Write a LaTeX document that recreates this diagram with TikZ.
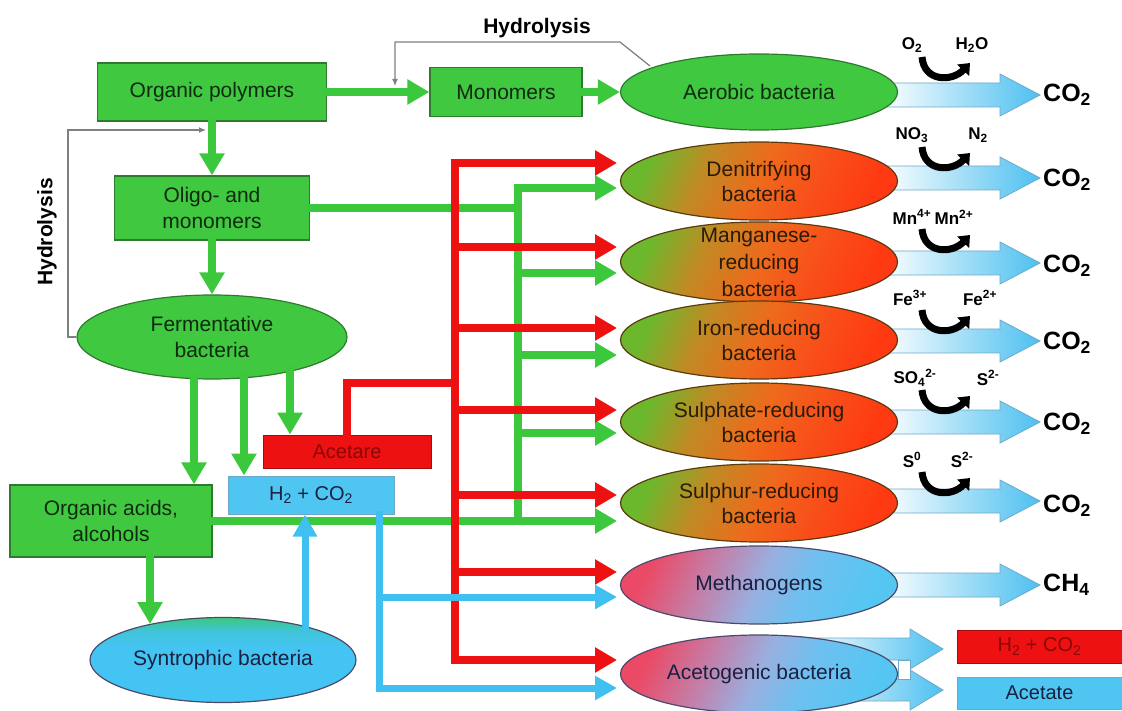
\documentclass[tikz,border=0pt]{standalone}
\usepackage{fontspec}
\setmainfont{Liberation Sans}
\usetikzlibrary{arrows.meta,shapes.geometric}
\definecolor{gfill}{HTML}{40C840}
\definecolor{gdark}{HTML}{2E7A2E}
\definecolor{gtext}{HTML}{0F2A0F}
\definecolor{glinec}{HTML}{3CC83C}
\definecolor{rlinec}{HTML}{EE1111}
\definecolor{blinec}{HTML}{3FC0F0}
\definecolor{bfill}{HTML}{4FC6F2}
\definecolor{ogreen}{HTML}{6CB82C}
\definecolor{obrown}{HTML}{C08A24}
\definecolor{omid}{HTML}{EE6A1C}
\definecolor{ored2}{HTML}{F8501A}
\definecolor{ored}{HTML}{FF3A12}
\definecolor{odark}{HTML}{5A3A10}
\definecolor{otext}{HTML}{2A1A08}
\definecolor{mred}{HTML}{EA4A66}
\definecolor{mpink}{HTML}{C47EA8}
\definecolor{mmid}{HTML}{98B0E0}
\definecolor{mblue2}{HTML}{6EC0F0}
\definecolor{mblue}{HTML}{55C6F2}
\definecolor{mdark}{HTML}{4A4A6A}
\definecolor{mtext}{HTML}{1A2040}
\definecolor{sgreen}{HTML}{3CC880}
\definecolor{smid}{HTML}{40C4D8}
\definecolor{sblue}{HTML}{44C4F2}
\definecolor{arrblue}{HTML}{4DC0F0}
\definecolor{arredge}{HTML}{6FA9C9}
\definecolor{hydgray}{HTML}{808080}
\definecolor{redtext}{HTML}{8A0808}
\pgfdeclarehorizontalshading{orsh}{100bp}{color(0bp)=(ogreen); color(25bp)=(ogreen); color(37bp)=(obrown); color(50bp)=(omid); color(62bp)=(ored2); color(75bp)=(ored); color(100bp)=(ored)}
\pgfdeclarehorizontalshading{mesh}{100bp}{color(0bp)=(mred); color(25bp)=(mred); color(38bp)=(mpink); color(50bp)=(mmid); color(60bp)=(mblue2); color(75bp)=(mblue); color(100bp)=(mblue)}
\pgfdeclareverticalshading{synsh}{100bp}{color(0bp)=(sblue); color(25bp)=(sblue); color(58bp)=(sblue); color(67bp)=(smid); color(75bp)=(sgreen); color(100bp)=(sgreen)}
\newcommand\fs[2]{\fontsize{#1}{#2}\selectfont}
\begin{document}
\begin{tikzpicture}[x=1pt,y=-1pt,
  gbox/.style={rectangle, draw=gdark, line width=1.2pt, fill=gfill, text=gtext, align=center, inner sep=0pt, font=\fs{21}{26}},
  gell/.style={ellipse, draw=gdark, line width=1.2pt, fill=gfill, text=gtext, align=center, inner sep=0pt, font=\fs{21}{26}},
  oell/.style={ellipse, draw=odark, line width=1.2pt, shade, shading=orsh, shading angle=-25, text=otext, align=center, inner sep=0pt, font=\fs{21}{25}, minimum width=277pt, minimum height=78pt},
  mell/.style={ellipse, draw=mdark, line width=1.2pt, shade, shading=mesh, shading angle=-25, text=mtext, align=center, inner sep=0pt, font=\fs{21}{25}, minimum width=277pt, minimum height=78pt},
  synell/.style={ellipse, draw=mdark, line width=1.2pt, shade, shading=synsh, text=mtext, align=center, inner sep=0pt, font=\fs{21}{25}},
  bbox/.style={rectangle, draw=arredge, line width=1pt, fill=bfill, text=mtext, align=center, inner sep=0pt, font=\fs{20}{24}},
  rbox/.style={rectangle, draw=rlinec!70!black, line width=1pt, fill=rlinec, text=redtext, align=center, inner sep=0pt, font=\fs{20}{24}},
  etext/.style={text=otext, align=center, inner sep=0pt, font=\fs{21}{27}},
  gline/.style={draw=glinec, line width=8pt, line cap=rect},
  rline/.style={draw=rlinec, line width=8pt, line cap=rect},
  bline/.style={draw=blinec, line width=7pt, line cap=rect},
  garrow/.style={gline, -{Triangle[length=22pt,width=24pt]}},
  rarrow/.style={rline, -{Triangle[length=22pt,width=24pt]}},
  barrow/.style={bline, -{Triangle[length=22pt,width=23pt]}},
  hydline/.style={draw=hydgray, line width=1.2pt, -{Latex[length=7pt,width=6pt]}},
  fatstyle/.style={left color=white, right color=arrblue, draw=arredge, line width=0.8pt},
  chem/.style={font=\bfseries\fs{17}{19}, text=black, inner sep=0pt},
  curv/.style={line width=7pt, draw=black, -{Triangle[length=10pt,width=16pt]}},
  co2/.style={font=\bfseries\fs{25}{28}, text=black, inner sep=0pt, anchor=west},
  hyd/.style={font=\bfseries\fs{21}{24}, text=black, inner sep=0pt}
]
\useasboundingbox (0,0) rectangle (1122,711);
\fill[white] (0,0) rectangle (1122,711);

% fat product arrows (behind the ellipses)
\foreach \c in {95,178,263,341,422,501,585}{
  \shadedraw[fatstyle] (880,\c-12) -- (1000,\c-12) -- (1000,\c-21) -- (1040,\c) -- (1000,\c+21) -- (1000,\c+12) -- (880,\c+12) -- cycle;
}
\foreach \c in {649,690}{
  \shadedraw[fatstyle] (800,\c-11) -- (910,\c-11) -- (910,\c-20) -- (943,\c) -- (910,\c+20) -- (910,\c+11) -- (800,\c+11) -- cycle;
}
\draw[arredge, line width=0.8pt, fill=white] (898,660) rectangle (910,679);

% left-hand nodes
\node[gbox, minimum width=229pt, minimum height=58pt] (op) at (212,92) {Organic polymers};
\node[gbox, minimum width=152pt, minimum height=49pt] (mono) at (506,92) {Monomers};
\node[gbox, minimum width=195pt, minimum height=64pt] (oligo) at (212,208) {Oligo- and\\monomers};
\node[gell, minimum width=270pt, minimum height=84pt] (ferm) at (212,337) {Fermentative\\bacteria};
\node[gbox, minimum width=202pt, minimum height=72pt] (oa) at (111,521) {Organic acids,\\alcohols};
\node[bbox, minimum width=166pt, minimum height=38pt] (h2) at (311,495) {H\textsubscript{2} + CO\textsubscript{2}};
\node[rbox, minimum width=168pt, minimum height=33pt] (acet) at (347,451.5) {Acetare};
\node[synell, minimum width=266pt, minimum height=85pt] (syn) at (223,660) {Syntrophic bacteria};

% right-hand ellipses
\node[gell, minimum width=277pt, minimum height=76pt] (aer) at (759,92) {Aerobic bacteria};
\node[oell] (den) at (759,181) {Denitrifying\\bacteria};
\node[oell, minimum height=80pt] (man) at (759,262) {};
\node[etext] (mant) at (man) {Manganese-\\reducing\\bacteria};
\node[oell] (iron) at (759,340) {Iron-reducing\\bacteria};
\node[oell] (sulf) at (759,422) {Sulphate-reducing\\bacteria};
\node[oell] (sulr) at (759,503) {Sulphur-reducing\\bacteria};
\node[mell] (meth) at (759,585) {Methanogens};
\node[mell] (acg) at (759,674) {Acetogenic bacteria};

% product boxes
\node[rbox, minimum width=165pt, minimum height=33pt] (rh2) at (1039.5,646.5) {H\textsubscript{2} + CO\textsubscript{2}};
\node[bbox, minimum width=165pt, minimum height=32pt] (racet) at (1039.5,693) {Acetate};

% main green flow
\draw[garrow] (op) -- (mono);
\draw[garrow] (mono) -- (aer);
\draw[garrow] (op) -- (oligo);
\draw[garrow] (oligo) -- (ferm);
\coordinate (f1) at (194,377);
\coordinate (f2) at (244,376);
\coordinate (f3) at (290,369);
\draw[garrow] (f1) -- (f1 |- oa.north);
\draw[garrow] (f2) -- (f2 |- h2.north);
\draw[garrow] (f3) -- (f3 |- acet.north);
\coordinate (s1) at (150,624);
\draw[garrow] (oa.south -| s1) -- (s1);

% green network
\coordinate (gt) at (518,0);
\coordinate (denG) at (617,188);
\coordinate (manG) at (617,273);
\coordinate (ironG) at (617,355);
\coordinate (sulfG) at (617,433);
\coordinate (sulrG) at (617,521);
\draw[gline] (gt |- denG) -- (gt |- sulrG);
\draw[gline] (oligo.east) -- (gt |- oligo.east);
\foreach \t in {denG,manG,ironG,sulfG} \draw[garrow] (gt |- \t) -- (\t);
\draw[garrow] (oa.east) -- (sulrG);

% red network
\coordinate (rt) at (455,0);
\coordinate (denR) at (617,163);
\coordinate (manR) at (617,247);
\coordinate (ironR) at (617,328);
\coordinate (sulfR) at (617,410);
\coordinate (sulrR) at (617,495);
\coordinate (methR) at (617,572);
\coordinate (acgR) at (617,660);
\coordinate (aj) at (455,383);
\draw[rline] (rt |- denR) -- (rt |- acgR);
\draw[rline] (acet.north) |- (aj);
\foreach \t in {denR,manR,ironR,sulfR,sulrR,methR,acgR} \draw[rarrow] (rt |- \t) -- (\t);

% blue network
\coordinate (b1) at (305,628);
\draw[barrow] (b1) -- (b1 |- h2.south);
\coordinate (bt) at (379,0);
\coordinate (methB) at (617,597);
\coordinate (acgB) at (617,688);
\draw[bline] (h2.south -| bt) -- (bt |- acgB);
\draw[barrow] (bt |- methB) -- (methB);
\draw[barrow] (bt |- acgB) -- (acgB);

% hydrolysis
\coordinate (hy1) at (650,66);
\coordinate (hy2) at (620,42);
\coordinate (hy3) at (395,42);
\coordinate (hy4) at (395,86);
\draw[hydline] (hy1) -- (hy2) -- (hy3) -- (hy4);
\node[hyd] (hyt) at (537,28) {Hydrolysis};
\coordinate (lh1) at (68,337);
\coordinate (lh2) at (68,130);
\coordinate (lh3) at (206,130);
\draw[hydline] (ferm.west) -- (lh1) -- (lh2) -- (lh3);
\node[hyd, rotate=90] (hyl) at (47,232) {Hydrolysis};

% electron acceptors
\node[chem] (a1) at (912,45) {O\textsubscript{2}};
\node[chem] (a2) at (972,45) {H\textsubscript{2}O};
\node[chem] (b1l) at (912,135) {NO\textsubscript{3}};
\node[chem] (b2l) at (978,135) {N\textsubscript{2}};
\node[chem] (c1) at (912,217) {Mn\textsuperscript{4+}};
\node[chem] (c2) at (954,217) {Mn\textsuperscript{2+}};
\node[chem] (d1) at (910,298) {Fe\textsuperscript{3+}};
\node[chem] (d2) at (980,298) {Fe\textsuperscript{2+}};
\node[chem] (e1) at (915,378) {SO\textsubscript{4}\textsuperscript{2-}};
\node[chem] (e2) at (988,378) {S\textsuperscript{2-}};
\node[chem] (g1) at (912,460) {S\textsuperscript{0}};
\node[chem] (g2) at (962,460) {S\textsuperscript{2-}};
\foreach \L in {45,135,217,298,378,460}{
  \draw[curv] (922,\L+12) .. controls (924,\L+37) and (952,\L+37) .. (970,\L+18);
}

% products
\node[co2] (p1) at (1043,95) {CO\textsubscript{2}};
\node[co2] (p2) at (1043,180) {CO\textsubscript{2}};
\node[co2] (p3) at (1043,266) {CO\textsubscript{2}};
\node[co2] (p4) at (1043,343) {CO\textsubscript{2}};
\node[co2] (p5) at (1043,424) {CO\textsubscript{2}};
\node[co2] (p6) at (1043,506) {CO\textsubscript{2}};
\node[co2] (p7) at (1043,585) {CH\textsubscript{4}};
\end{tikzpicture}
\end{document}
